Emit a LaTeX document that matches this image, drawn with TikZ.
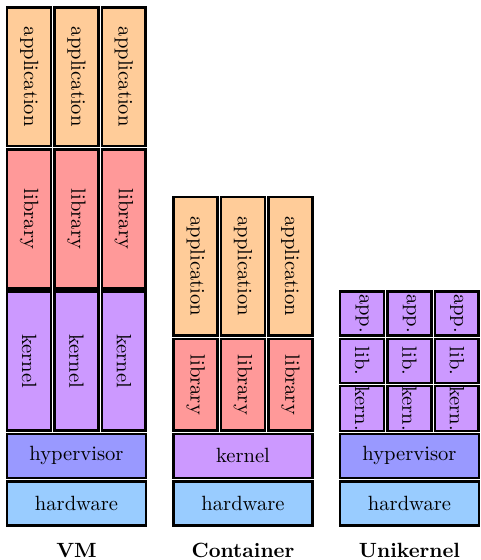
\documentclass[tikz,border=0pt]{standalone}
\usepackage{fontspec}
\definecolor{appcol}{HTML}{FFCC99}
\definecolor{libcol}{HTML}{FF9999}
\definecolor{kercol}{HTML}{CC99FF}
\definecolor{hypcol}{HTML}{9999FF}
\definecolor{hwcol}{HTML}{99CCFF}
\def\U{47.4}
\def\CW{47.33}
\def\S{0.4854pt}
% horizontal cell: name, x0, y0, w, h, style, text
\newcommand\hcell[7]{%
  \node[#6, minimum width={((#4)-3.4)*\S}, minimum height={((#5)-3.4)*\S}] (#1) at ({(#2)+(#4)/2},{(#3)+(#5)/2}) {#7};}
% vertical-text cell: name, x0, y0, w, h, style, text
\newcommand\vcell[7]{%
  \node[#6, rotate=-90, minimum width={((#5)-3.4)*\S}, minimum height={((#4)-3.4)*\S}] (#1) at ({(#2)+(#4)/2},{(#3)+(#5)/2}) {#7};}
\begin{document}
\begin{tikzpicture}[x=0.4854pt,y=-0.4854pt,
  cellbox/.style={draw=black, line width=1.26pt, inner sep=0pt, outer sep=0pt, font=\fontsize{10}{12}\selectfont},
  appbox/.style={cellbox, fill=appcol},
  libbox/.style={cellbox, fill=libcol},
  kerbox/.style={cellbox, fill=kercol},
  hypbox/.style={cellbox, fill=hypcol},
  hwbox/.style={cellbox, fill=hwcol},
  caption/.style={anchor=base, font=\fontsize{10}{12}\selectfont\bfseries}]
\useasboundingbox (0,0) rectangle (481,560);
% ---------- VM ----------
\hcell{vmhw}{5.5}{527-\U}{142}{\U}{hwbox}{hardware}
\hcell{vmhyp}{5.5}{527-2*\U}{142}{\U}{hypbox}{hypervisor}
\foreach \i in {0,1,2}{
  \vcell{vmker\i}{5.5+\i*\CW}{527-5*\U}{\CW}{3*\U}{kerbox}{kernel}
  \vcell{vmlib\i}{5.5+\i*\CW}{527-8*\U}{\CW}{3*\U}{libbox}{library}
  \vcell{vmapp\i}{5.5+\i*\CW}{527-11*\U}{\CW}{3*\U}{appbox}{application}
}
\node[caption] (vmlabel) at (76.5,557) {VM};
% ---------- Container ----------
\hcell{cohw}{172}{527-\U}{142}{\U}{hwbox}{hardware}
\hcell{coker}{172}{527-2*\U}{142}{\U}{kerbox}{kernel}
\foreach \i in {0,1,2}{
  \vcell{colib\i}{172+\i*\CW}{527-4*\U}{\CW}{2*\U}{libbox}{library}
  \vcell{coapp\i}{172+\i*\CW}{527-7*\U}{\CW}{3*\U}{appbox}{application}
}
\node[caption] (colabel) at (243,557) {Container};
% ---------- Unikernel ----------
\hcell{unhw}{338.5}{527-\U}{142}{\U}{hwbox}{hardware}
\hcell{unhyp}{338.5}{527-2*\U}{142}{\U}{hypbox}{hypervisor}
\foreach \i in {0,1,2}{
  \vcell{unker\i}{338.5+\i*\CW}{527-3*\U}{\CW}{\U}{kerbox}{kern.}
  \vcell{unlib\i}{338.5+\i*\CW}{527-4*\U}{\CW}{\U}{kerbox}{lib.}
  \vcell{unapp\i}{338.5+\i*\CW}{527-5*\U}{\CW}{\U}{kerbox}{app.}
}
\node[caption] (unlabel) at (409.5,557) {Unikernel};
\end{tikzpicture}
\end{document}
